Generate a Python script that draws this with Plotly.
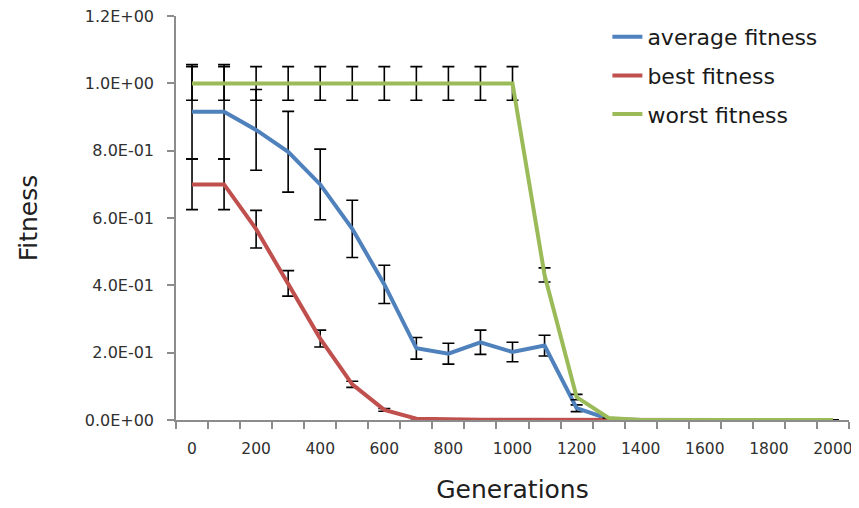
import plotly.graph_objects as go

generations = [0, 100, 200, 300, 400, 500, 600, 700, 800, 900, 1000,
               1100, 1200, 1300, 1400, 1500, 1600, 1700, 1800, 1900, 2000]

avg_fitness = [0.916, 0.916, 0.862, 0.797, 0.700, 0.568, 0.403, 0.213, 0.197, 0.231, 0.202,
               0.221, 0.035, 0.003, 0, 0, 0, 0, 0, 0, 0]
avg_err = [0.14, 0.14, 0.12, 0.12, 0.105, 0.085, 0.057, 0.032, 0.031, 0.036, 0.029,
           0.031, 0.01, 0, 0, 0, 0, 0, 0, 0, 0]

best_fitness = [0.700, 0.700, 0.567, 0.406, 0.242, 0.106, 0.030, 0.004, 0.002, 0.001, 0.001,
                0.0005, 0, 0, 0, 0, 0, 0, 0, 0, 0]
best_err = [0.075, 0.075, 0.056, 0.038, 0.025, 0.009, 0.004, 0, 0, 0, 0,
            0, 0, 0, 0, 0, 0, 0, 0, 0, 0]

worst_fitness = [1.0, 1.0, 1.0, 1.0, 1.0, 1.0, 1.0, 1.0, 1.0, 1.0, 1.0,
                 0.431, 0.068, 0.006, 0, 0, 0, 0, 0, 0, 0]
worst_err = [0.05, 0.05, 0.05, 0.05, 0.05, 0.05, 0.05, 0.05, 0.05, 0.05, 0.05,
             0.021, 0.008, 0, 0, 0, 0, 0, 0, 0, 0]

y_tickvals = [0, 0.2, 0.4, 0.6, 0.8, 1.0, 1.2]
y_ticktext = ["0.0E+00", "2.0E-01", "4.0E-01", "6.0E-01", "8.0E-01", "1.0E+00", "1.2E+00"]
x_labelvals = [0, 200, 400, 600, 800, 1000, 1200, 1400, 1600, 1800, 2000]

FONT = "'DejaVu Sans', sans-serif"

series = [
    ("average fitness", avg_fitness, avg_err, "#4F81BD"),
    ("best fitness", best_fitness, best_err, "#C0504D"),
    ("worst fitness", worst_fitness, worst_err, "#9BBB59"),
]

fig = go.Figure()
for i, (name, vals, errs, color) in enumerate(series):
    fig.add_trace(go.Scatter(
        x=generations, y=vals, name=name, mode="lines",
        line=dict(color=color, width=4),
        legendgroup=f"g{i}",
        error_y=dict(type="data", array=[e if e > 0 else None for e in errs],
                     visible=True, color="#000000", thickness=1.6, width=6),
    ))

# the page body has an 8px margin, so the figure is 8px smaller and offset
fig.update_layout(
    width=851, height=500,
    margin=dict(l=168, r=10, t=8, b=88),
    paper_bgcolor="white", plot_bgcolor="white",
    font=dict(family=FONT, color="#303030"),
    legend=dict(x=0.641, y=1.0, xanchor="left", yanchor="top",
                font=dict(size=22, color="#1a1a1a", family=FONT),
                tracegroupgap=7, bgcolor="rgba(0,0,0,0)"),
    xaxis=dict(
        range=[-50, 2050], showgrid=False, zeroline=False, automargin=False,
        showline=True, linecolor="#8c8c8c", linewidth=1.5,
        tickvals=x_labelvals, ticks="", ticklabelstandoff=14,
        ticklabeloverflow="allow",
        tickfont=dict(size=15.5, color="#303030"),
        minor=dict(tickvals=[g - 50 for g in generations] + [2050],
                   ticks="outside", ticklen=7, tickcolor="#8c8c8c", tickwidth=1.5),
        title=dict(text="Generations", font=dict(size=25, color="#202020"), standoff=23),
    ),
    yaxis=dict(
        range=[0, 1.2005], showgrid=False, zeroline=False, automargin=False,
        showline=True, linecolor="#8c8c8c", linewidth=1.5,
        tickvals=y_tickvals, ticktext=y_ticktext,
        ticks="outside", ticklen=7, tickcolor="#8c8c8c", tickwidth=1.5,
        ticklabelstandoff=10, ticklabeloverflow="allow",
        tickfont=dict(size=16, color="#303030"),
        title=dict(text="Fitness", font=dict(size=25, color="#202020"), standoff=40),
    ),
)

fig.write_html("out.html")
